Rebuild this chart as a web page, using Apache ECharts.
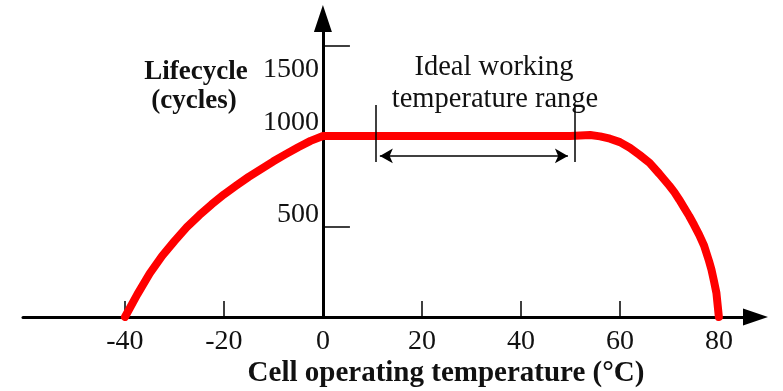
<!DOCTYPE html>
<html><head><meta charset="utf-8">
<script src="https://cdn.jsdelivr.net/npm/echarts@6/dist/echarts.min.js"></script>
<style>html,body{margin:0;padding:0;background:#fff}#c{width:783px;height:391px}</style>
</head><body><div id="c"></div>
<script>
// Temperature (°C) and lifecycle (cycles)
const temps  = [-40, -37.5, -35, -32.5, -30, -27.5, -25, -22.5, -20, -17.5, -15, -12.5, -10, -7.5, -5, -2.5, 0,
                10, 20, 30, 40, 50, 52, 54, 56, 58, 60, 62, 64, 66, 68, 70, 71, 72, 73, 74, 75, 76, 77, 78, 78.5, 79, 79.5, 80];
const cycles = [0, 125, 240, 337, 419, 496, 562, 622, 677, 726, 774, 817, 860, 900, 938, 973, 1000,
                1000, 1000, 1000, 1000, 1000, 1002, 1005, 998, 985, 966, 935, 895, 852, 790, 725, 690, 648, 603, 558, 508, 455, 395, 310, 262, 200, 133, 0];

const xTickValues  = [-40, -20, 20, 40, 60, 80];
const xLabelValues = [-40, -20, 0, 20, 40, 60, 80];
const yTickValues  = [500, 1000, 1500];

// Annotation: ideal working temperature range
const idealBounds     = [10.7, 50.9];   // °C, vertical bars
const idealBarCycles  = [856, 1171];    // vertical extent of bars
const idealArrowTemps = [11.5, 49.5];   // °C, double arrow tips
const idealArrowCycle = 890;

const xName = 'Cell operating temperature (°C)';
const yNameLines = ['Lifecycle', '(cycles)'];
const noteLines = ['Ideal working', 'temperature range'];

const serif = '"Liberation Serif", "Times New Roman", serif';
const chart = echarts.init(document.getElementById('c'), null, {renderer: 'canvas'});

const W = 783, gridLeft = 23, gridRight = 27.5;
const xMin = -60.6, xMax = 87.4;
// place the y axis at x = 0 of the x scale
const yAxisOffset = -((0 - xMin) / (xMax - xMin)) * (W - gridLeft - gridRight);

const yRich = {
  r500:  {fontFamily: serif, fontSize: 28, color: '#111', padding: [0, 0, 23, 0]},
  r1000: {fontFamily: serif, fontSize: 28, color: '#111', padding: [0, 0, 26, 0]},
  r1500: {fontFamily: serif, fontSize: 28, color: '#111', padding: [49, 0, 0, 0]}
};

chart.setOption({
  animation: false,
  backgroundColor: '#fff',
  grid: {left: gridLeft, right: gridRight, top: 18.5, bottom: 74, containLabel: false, outerBoundsMode: 'none'},
  xAxis: {
    type: 'value', min: xMin, max: xMax,
    splitLine: {show: false},
    axisLine: {onZero: true, lineStyle: {color: '#000', width: 3}, symbol: ['none', 'triangle'], symbolSize: [17, 25]},
    axisTick: {show: true, inside: true, length: 16, customValues: xTickValues, lineStyle: {color: '#000', width: 1.5}},
    axisLabel: {customValues: xLabelValues, margin: 11, color: '#111', fontFamily: serif, fontSize: 28}
  },
  yAxis: {
    type: 'value', min: 0, max: 1649, position: 'left', offset: yAxisOffset,
    splitLine: {show: false},
    axisLine: {onZero: false, lineStyle: {color: '#000', width: 3}, symbol: ['none', 'triangle'], symbolSize: [18, 27]},
    axisTick: {show: true, inside: true, length: 27, customValues: yTickValues, lineStyle: {color: '#000', width: 1.5}},
    axisLabel: {customValues: yTickValues, margin: 4, color: '#111', fontFamily: serif, fontSize: 28,
      formatter: v => '{r' + v + '|' + v + '}', rich: yRich}
  },
  series: [
    {
      type: 'line', name: 'lifecycle',
      data: temps.map((t, i) => [t, cycles[i]]),
      symbol: 'none', showSymbol: false, smooth: false,
      lineStyle: {color: '#ff0000', width: 8, cap: 'round', join: 'round'},
      emphasis: {disabled: true}, silent: true, z: 2
    },
    {
      type: 'line', data: [], z: 4, silent: true,
      markLine: {
        silent: true, symbol: 'none', label: {show: false},
        lineStyle: {color: '#000', width: 1.5, type: 'solid'},
        emphasis: {disabled: true},
        data: idealBounds.map(t => [{coord: [t, idealBarCycles[0]]}, {coord: [t, idealBarCycles[1]]}])
      }
    },
    {
      type: 'line', data: [], z: 4, silent: true,
      markLine: {
        silent: true, symbol: ['arrow', 'arrow'], symbolSize: [11, 13], label: {show: false},
        lineStyle: {color: '#000', width: 1.5, type: 'solid'},
        emphasis: {disabled: true},
        data: [[{coord: [idealArrowTemps[0], idealArrowCycle]}, {coord: [idealArrowTemps[1], idealArrowCycle]}]]
      }
    }
  ],
  graphic: [
    {type: 'text', x: 196, y: 72, style: {text: yNameLines[0], font: 'bold 27px ' + serif, fill: '#111', textAlign: 'center', textVerticalAlign: 'middle'}},
    {type: 'text', x: 194, y: 101, style: {text: yNameLines[1], font: 'bold 27px ' + serif, fill: '#111', textAlign: 'center', textVerticalAlign: 'middle'}},
    {type: 'text', x: 494, y: 68, style: {text: noteLines[0], font: '28.5px ' + serif, fill: '#111', textAlign: 'center', textVerticalAlign: 'middle'}},
    {type: 'text', x: 495, y: 100, style: {text: noteLines[1], font: '28.5px ' + serif, fill: '#111', textAlign: 'center', textVerticalAlign: 'middle'}},
    {type: 'text', x: 446, y: 374, style: {text: xName, font: 'bold 29px ' + serif, fill: '#111', textAlign: 'center', textVerticalAlign: 'middle'}}
  ]
});
</script>
</body></html>
